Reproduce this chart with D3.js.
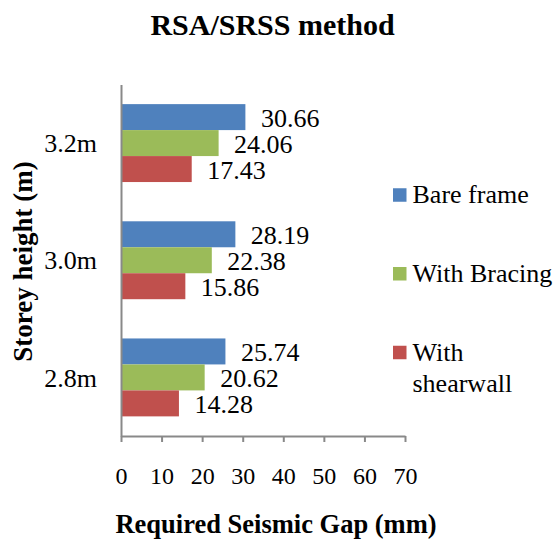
<!DOCTYPE html>
<html>
<head>
<meta charset="utf-8">
<script src="https://cdn.jsdelivr.net/npm/d3@7"></script>
</head>
<body style="margin:0">
<script>
// chart data
const storeys = ['3.2m', '3.0m', '2.8m'];
const seriesNames = ['Bare frame', 'With Bracing', 'With shearwall'];
const bareFrame = [30.66, 28.19, 25.74];
const withBracing = [24.06, 22.38, 20.62];
const withShearwall = [17.43, 15.86, 14.28];
const xTicks = [0, 10, 20, 30, 40, 50, 60, 70];
const legendLines = [['Bare frame'], ['With Bracing'], ['With', 'shearwall']];

const colors = ['#4f81bd', '#9bbb59', '#c0504d'];
const seriesValues = [bareFrame, withBracing, withShearwall];
const FONT = "'Liberation Serif'";

const width = 559, height = 545;
const svg = d3.select('body').append('svg')
    .attr('width', width)
    .attr('height', height)
    .style('display', 'block');

let x = d3.scaleLinear().domain([0, 70]).range([121, 405]);
let y = d3.scaleBand().domain(storeys).range([84.5, 436])
    .paddingInner(0.335).paddingOuter(0.1675);
let ySeries = d3.scaleBand().domain(seriesNames).range([0, y.bandwidth()]);

function label(sel, size, bold){
    return sel.attr('font-family', 'Liberation Serif')
        .style('font-family', FONT)
        .style('font-size', size + 'px')
        .style('font-weight', bold ? 'bold' : 'normal');
}

// title
svg.append('text')
    .attr('x', 272.5).attr('y', 35)
    .attr('text-anchor', 'middle')
    .call(label, 30, true)
    .text('RSA/SRSS method');

// bars + labels
let groups = svg.selectAll('g.group')
    .data(storeys)
    .enter().append('g')
    .attr('class', 'group')
    .attr('transform', (d)=> 'translate(0,' + y(d) + ')');

groups.each(function(storey, i){
    let g = d3.select(this);
    seriesNames.forEach((name, s)=>{
        let v = seriesValues[s][i];
        g.append('rect')
            .attr('x', x(0))
            .attr('y', ySeries(name))
            .attr('width', x(v) - x(0))
            .attr('height', ySeries.bandwidth())
            .attr('fill', colors[s]);
        g.append('text')
            .attr('x', x(v) + 15.5)
            .attr('y', ySeries(name) + ySeries.bandwidth() / 2 + 10)
            .call(label, 26, false)
            .text(v.toFixed(2));
    });
});

// x axis
let xAxis = svg.append('g')
    .attr('transform', 'translate(0,436)')
    .call(d3.axisBottom(x).tickValues(xTicks).tickSize(6).tickSizeOuter(0))
    .attr('font-family', 'Liberation Serif');
xAxis.select('.domain').attr('stroke', '#898989').attr('stroke-width', 2);
xAxis.selectAll('.tick line').attr('stroke', '#898989').attr('stroke-width', 2);
xAxis.selectAll('.tick text')
    .attr('y', 48).attr('dy', null)
    .attr('fill', '#000')
    .call(label, 24, false);

// y axis
let yAxis = svg.append('g')
    .attr('transform', 'translate(121,0)')
    .call(d3.axisLeft(y).tickSize(0).tickPadding(24))
    .attr('font-family', 'Liberation Serif');
yAxis.select('.domain').attr('stroke', '#898989').attr('stroke-width', 2);
yAxis.selectAll('.tick text')
    .attr('dy', '0.35em')
    .attr('fill', '#000')
    .call(label, 26, false);

// axis titles
svg.append('text')
    .attr('x', 276).attr('y', 533)
    .attr('text-anchor', 'middle')
    .call(label, 26.5, true)
    .text('Required Seismic Gap (mm)');

svg.append('text')
    .attr('transform', 'translate(31.5,261.5) rotate(-90)')
    .attr('text-anchor', 'middle')
    .call(label, 27, true)
    .text('Storey height (m)');

// legend
let legend = svg.append('g').attr('transform', 'translate(393,0)');
let legendY = d3.scalePoint().domain(seriesNames).range([195, 352.5]);
seriesNames.forEach((name, s)=>{
    let cy = legendY(name);
    legend.append('rect')
        .attr('x', 0).attr('y', cy - 6.75)
        .attr('width', 13.5).attr('height', 13.5)
        .attr('fill', colors[s]);
    let t = legend.append('text')
        .attr('x', 19.5).attr('y', cy + 8)
        .call(label, 26, false);
    legendLines[s].forEach((line, k)=>{
        t.append('tspan')
            .attr('x', 19.5)
            .attr('dy', k == 0 ? 0 : 31.7)
            .text(line);
    });
});
</script>
</body>
</html>
